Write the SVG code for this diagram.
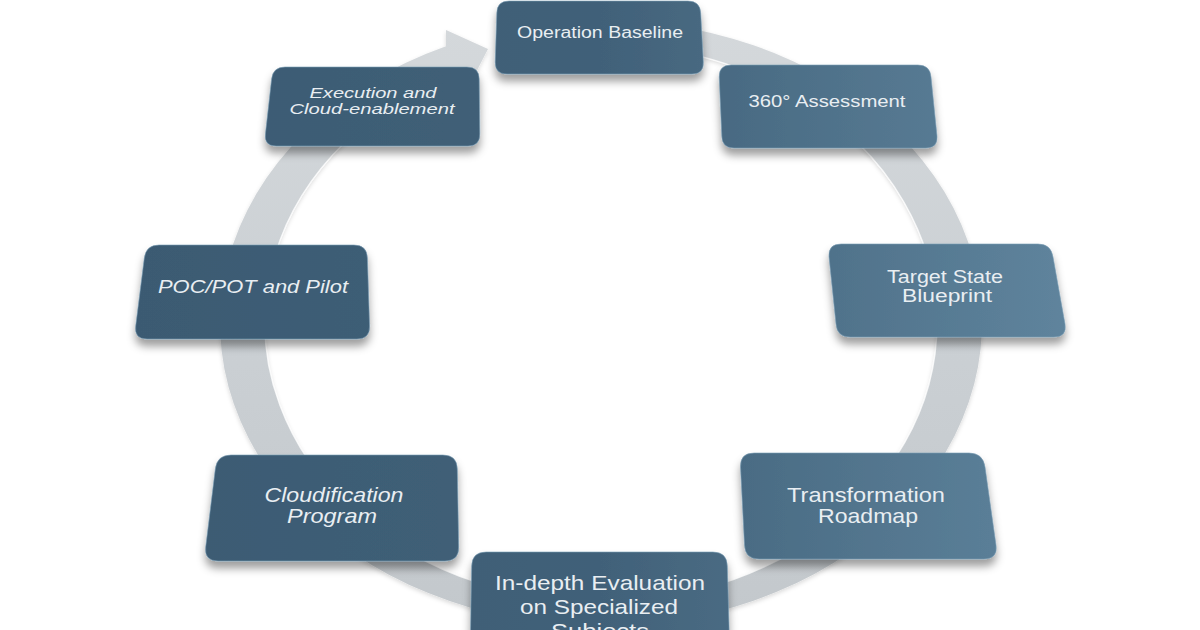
<svg xmlns="http://www.w3.org/2000/svg" width="1200" height="630" viewBox="0 0 1200 630">
  <defs>
    <linearGradient id="ringGrad" x1="0" y1="0" x2="0" y2="1">
      <stop offset="0" stop-color="#d4d8db"/>
      <stop offset="0.5" stop-color="#cbd0d4"/>
      <stop offset="1" stop-color="#c3c8cc"/>
    </linearGradient>
    <linearGradient id="nodeGrad" gradientUnits="userSpaceOnUse" x1="130" y1="0" x2="1070" y2="0">
      <stop offset="0" stop-color="#3b5a72"/>
      <stop offset="0.5" stop-color="#416179"/>
      <stop offset="1" stop-color="#5f849d"/>
    </linearGradient>
    <linearGradient id="shade" x1="0" y1="0" x2="0" y2="1">
      <stop offset="0" stop-color="#ffffff" stop-opacity="0.04"/>
      <stop offset="1" stop-color="#ffffff" stop-opacity="0.08"/>
    </linearGradient>
    <filter id="shadow" x="-10%" y="-10%" width="120%" height="140%">
      <feDropShadow dx="0" dy="7" stdDeviation="4" flood-color="#000" flood-opacity="0.38"/>
    </filter>
    <filter id="ringShadow" x="-5%" y="-5%" width="110%" height="110%">
      <feDropShadow dx="0" dy="2" stdDeviation="2" flood-color="#000" flood-opacity="0.15"/>
    </filter>
  </defs>
  <style>
    .node { fill: url(#nodeGrad); stroke: #7a9db4; stroke-width: 1; stroke-opacity: 0.6; filter: url(#shadow); }
    .lbl { font-family: "Liberation Sans", Arial, sans-serif; fill: #e9eef2; text-anchor: middle; }
    .it { font-style: italic; }
  </style>

  <rect width="1200" height="630" fill="#ffffff"/>

  <g id="connectors">
    <path id="cycle-ring" d="M667.2,24.6 A381,303 0 1 1 446,46.2 L446,30 L488,49 L470,84 L464.3,68.1 A336,279 0 1 0 659.3,48.2 Z" fill="url(#ringGrad)" filter="url(#ringShadow)"/>
    <path d="M464.3,68.1 A336,279 0 1 0 659.3,48.2" fill="none" stroke="#ffffff" stroke-width="1.5" stroke-opacity="0.8"/>
  </g>

  <g id="node-operation-baseline">
    <path class="node" d="M509,1 L688,1 Q700,1 700.7,13 L703.3,62 Q704,74 692,74 L507,74 Q495,74 495.2,62 L496.8,13 Q497,1 509,1 Z"/>
    <text class="lbl" x="600" y="38" font-size="16" textLength="166" lengthAdjust="spacingAndGlyphs">Operation Baseline</text>
  </g>

  <g id="node-360-assessment">
    <path class="node" d="M731,65 L918,65 Q930,65 931,77 L937,136 Q938,148 926,148 L734,148 Q722,148 721.8,136 L719.2,77 Q719,65 731,65 Z"/>
    <text class="lbl" x="827" y="107" font-size="16" textLength="157" lengthAdjust="spacingAndGlyphs">360° Assessment</text>
  </g>

  <g id="node-target-state">
    <path class="node" d="M841,244 L1038,244 Q1051,244 1053,257 L1065,324 Q1067,337 1054,337 L850,337 Q837,337 836,324 L829,257 Q828,244 841,244 Z"/>
    <text class="lbl" x="945" y="283" font-size="17.5" textLength="116" lengthAdjust="spacingAndGlyphs">Target State</text>
    <text class="lbl" x="947" y="302" font-size="17.5" textLength="90" lengthAdjust="spacingAndGlyphs">Blueprint</text>
  </g>

  <g id="node-transformation-roadmap">
    <path class="node" d="M754,453 L969,453 Q983,453 985,467 L996,545 Q998,559 984,559 L759,559 Q745,559 744.5,545 L740.5,467 Q740,453 754,453 Z"/>
    <text class="lbl" x="866" y="502" font-size="21" textLength="158" lengthAdjust="spacingAndGlyphs">Transformation</text>
    <text class="lbl" x="868" y="523" font-size="21" textLength="100" lengthAdjust="spacingAndGlyphs">Roadmap</text>
  </g>

  <g id="node-in-depth-evaluation">
    <path class="node" d="M486,552 L713,552 Q727,552 727.3,566 L730,660 L470,660 L471.7,566 Q472,552 486,552 Z"/>
    <text class="lbl" x="600" y="590" font-size="21" textLength="210" lengthAdjust="spacingAndGlyphs">In-depth Evaluation</text>
    <text class="lbl" x="599" y="614" font-size="21" textLength="158" lengthAdjust="spacingAndGlyphs">on Specialized</text>
    <text class="lbl" x="600" y="638" font-size="21" textLength="98" lengthAdjust="spacingAndGlyphs">Subjects</text>
  </g>

  <g id="node-cloudification-program">
    <path class="node" d="M231,455 L443,455 Q457,455 457.3,469 L458.7,547 Q459,561 445,561 L218,561 Q204,561 205.7,547 L215.3,469 Q217,455 231,455 Z"/>
    <text class="lbl it" x="334" y="502" font-size="21" textLength="139" lengthAdjust="spacingAndGlyphs">Cloudification</text>
    <text class="lbl it" x="332" y="523" font-size="21" textLength="90" lengthAdjust="spacingAndGlyphs">Program</text>
  </g>

  <g id="node-poc-pot-pilot">
    <path class="node" d="M159,245 L354,245 Q367,245 367.4,258 L369.6,326 Q370,339 357,339 L147,339 Q134,339 135.7,326 L144.3,258 Q146,245 159,245 Z"/>
    <text class="lbl it" x="253" y="293" font-size="17.5" textLength="190" lengthAdjust="spacingAndGlyphs">POC/POT and Pilot</text>
  </g>

  <g id="node-execution-cloud">
    <path class="node" d="M285,67 L467,67 Q479,67 479.2,79 L479.8,134 Q480,146 468,146 L276,146 Q264,146 265.4,134 L271.6,79 Q273,67 285,67 Z"/>
    <text class="lbl it" x="373" y="98" font-size="15.5" textLength="127" lengthAdjust="spacingAndGlyphs">Execution and</text>
    <text class="lbl it" x="372" y="114" font-size="15.5" textLength="165" lengthAdjust="spacingAndGlyphs">Cloud-enablement</text>
  </g>
</svg>
